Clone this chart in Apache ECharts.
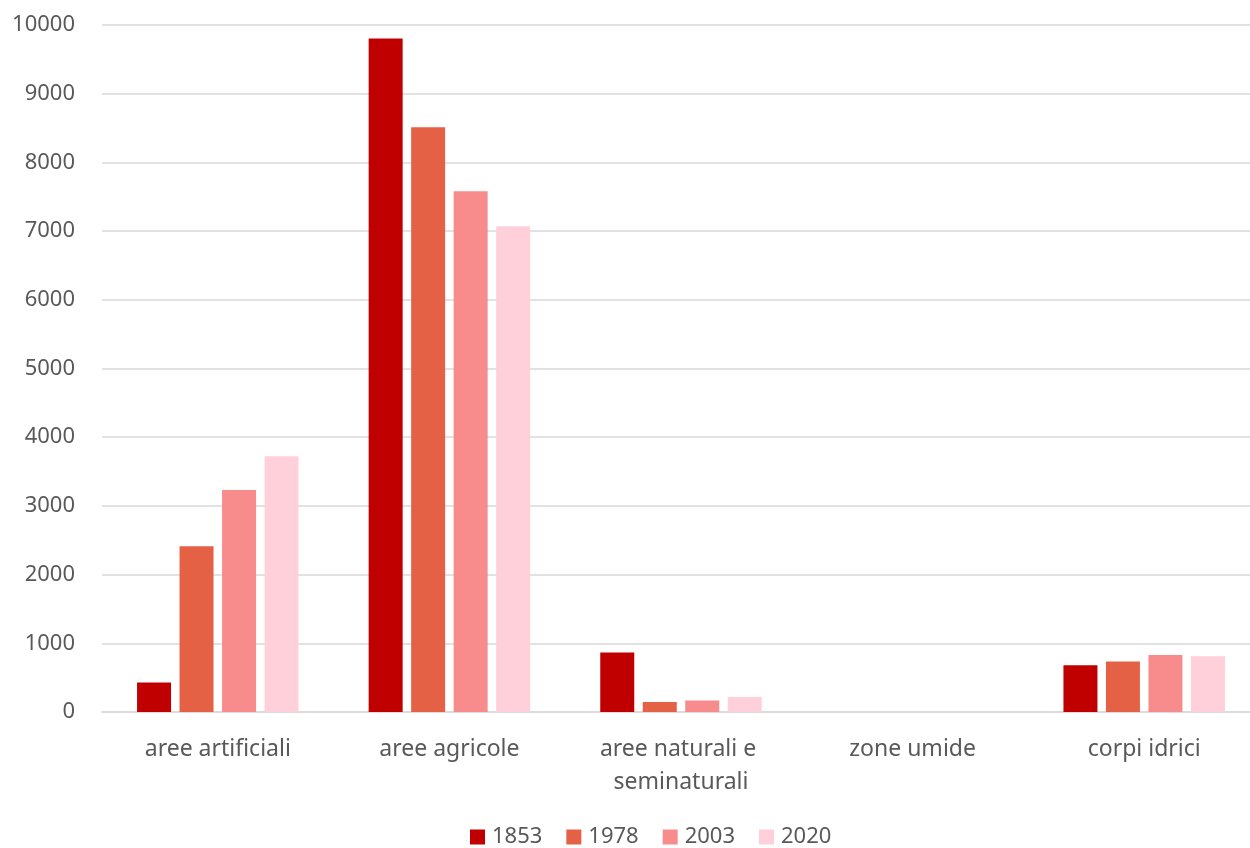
<!DOCTYPE html>
<html>
<head>
<meta charset="utf-8">
<script src="https://cdn.jsdelivr.net/npm/echarts@6/dist/echarts.min.js"></script>
<style>
  html, body { margin: 0; padding: 0; background: #fff; }
  #chart { width: 1250px; height: 848px; }
</style>
</head>
<body>
<div id="chart"></div>
<script>
// categorie
var categories = ["aree artificiali", "aree agricole", "aree naturali e seminaturali", "zone umide", "corpi idrici"];
// valori per anno
var years = ["1853", "1978", "2003", "2020"];
var v1853 = [428, 9802, 865, 0, 680];
var v1978 = [2412, 8511, 146, 0, 734];
var v2003 = [3231, 7580, 166, 0, 830];
var v2020 = [3722, 7070, 218, 0, 811];
var colors = ["#C00000", "#E46146", "#F88C8C", "#FFD0DA"];

var chart = echarts.init(document.getElementById("chart"));
var font = "Noto Sans";
var values = [v1853, v1978, v2003, v2020];

var option = {
  animation: false,
  color: colors,
  textStyle: { fontFamily: font },
  grid: { left: 102, top: 25, bottom: 136, right: -10, outerBoundsMode: "none" },
  legend: {
    bottom: -5,
    left: 465,
    itemWidth: 15,
    itemHeight: 15,
    itemGap: 24,
    icon: "rect",
    textStyle: { color: "#595959", fontSize: 22, fontFamily: font, padding: [0, 0, 0, 2] }
  },
  xAxis: {
    type: "category",
    data: categories,
    axisLine: { show: true, lineStyle: { color: "#d9d9d9", width: 1.5 } },
    axisTick: { show: false },
    axisLabel: {
      interval: 0,
      margin: 21,
      color: "#595959",
      fontSize: 23,
      fontFamily: font,
      lineHeight: 33,
      width: 210,
      overflow: "break"
    }
  },
  yAxis: {
    type: "value",
    min: 0,
    max: 10000,
    interval: 1000,
    axisLine: { show: false },
    axisTick: { show: false },
    axisLabel: {
      color: "#595959",
      fontSize: 22,
      fontFamily: font,
      margin: 27,
      formatter: function (v) { return String(v); }
    },
    splitLine: { lineStyle: { color: "#d9d9d9", width: 1.5 } }
  },
  series: years.map(function (y, i) {
    return {
      name: y,
      type: "bar",
      barWidth: 34,
      barGap: "25%",
      data: values[i],
      itemStyle: { color: colors[i] }
    };
  })
};

chart.setOption(option);
</script>
</body>
</html>
